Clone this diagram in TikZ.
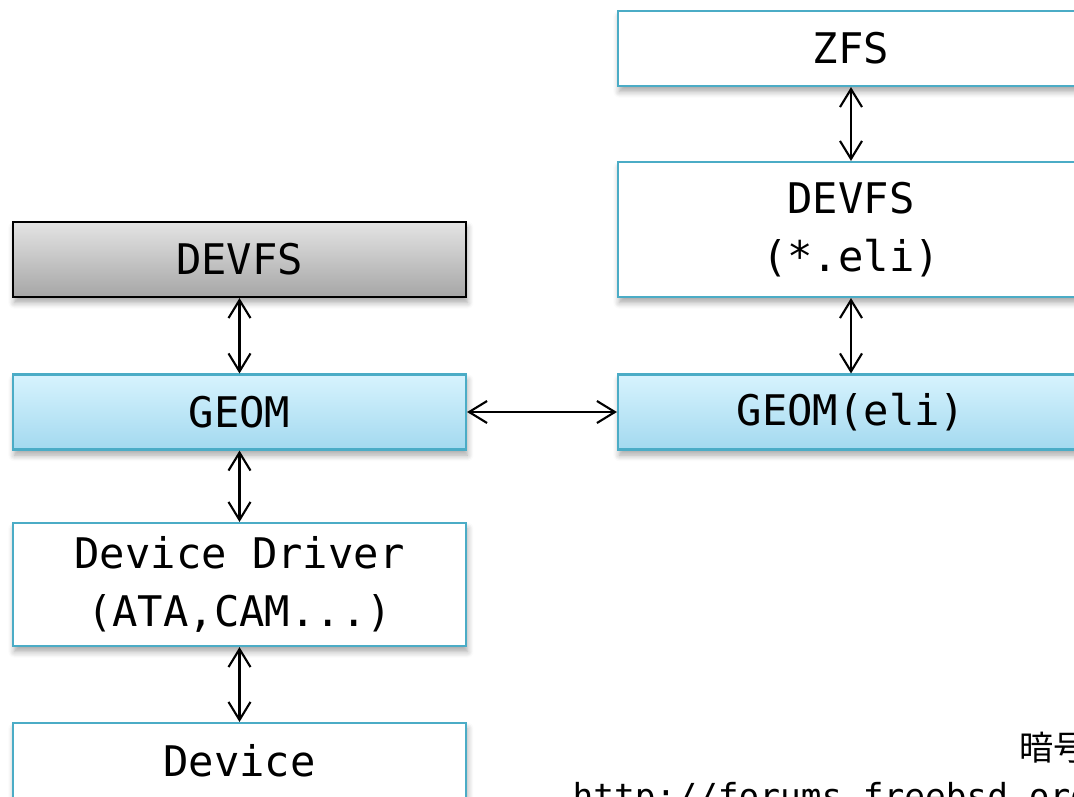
\documentclass[tikz,border=0pt]{standalone}
\usepackage{fontspec}
\setmonofont{DejaVu Sans Mono}
\newfontfamily\cjk{Noto Sans CJK JP}
\usetikzlibrary{arrows.meta,shadows.blur}
\definecolor{aqua}{HTML}{4BACC6}
\definecolor{geomtop}{HTML}{D7F3FE}
\definecolor{geombot}{HTML}{A3D9EF}
\definecolor{graytop}{HTML}{E4E4E4}
\definecolor{graybot}{HTML}{A6A6A6}

\begin{document}
\begin{tikzpicture}[main/.style = {draw=aqua, line width=0.6pt, fill=white, minimum width=4.53cm, minimum height=0.75cm, inner sep=0pt, align=center, font=\ttfamily\fontsize{12}{16.3}\selectfont, blur shadow={shadow xshift=0.4pt, shadow yshift=-1.6pt, shadow blur steps=6, shadow opacity=35}},
    wide/.style = {main, minimum width=4.66cm},
    geomfill/.style = {top color=geomtop, bottom color=geombot},
    link/.style = {{Straight Barb[length=1.8mm,width=2.2mm]}-{Straight Barb[length=1.8mm,width=2.2mm]}, line width=0.6pt}]
    \useasboundingbox (0,0) rectangle (10.74,-7.96);
    \clip (0,0) rectangle (10.74,-7.96);
    \node[main, draw=black, top color=graytop, bottom color=graybot] (devfs) at (2.395,-2.595) {DEVFS};
    \node[main, geomfill] (geom) at (2.395,-4.12) {GEOM};
    \node[main, minimum height=1.23cm] (driver) at (2.395,-5.845) {Device Driver\\(ATA,CAM...)};
    \node[main] (device) at (2.395,-7.605) {Device};
    \node[wide] (zfs) at (8.51,-0.485) {ZFS};
    \node[wide, minimum height=1.35cm] (devfseli) at (8.51,-2.295) {DEVFS\\(*.eli)};
    \node[wide, geomfill] (geomeli) at (8.51,-4.12) {GEOM(eli)};
    \draw[link] (devfs) -- (geom);
    \draw[link] (geom) -- (driver);
    \draw[link] (driver) -- (device);
    \draw[link] (zfs) -- (devfseli);
    \draw[link] (devfseli) -- (geomeli);
    \draw[link] (geom) -- (geomeli);
    \node[font=\cjk\fontsize{9.7}{12}\selectfont, anchor=base west, inner sep=0pt] (note) at (10.19,-7.60) {暗号};
    \node[font=\ttfamily\fontsize{9.8}{12}\selectfont, anchor=base west, inner sep=0pt] (url) at (5.72,-8.08) {http://forums.freebsd.org/};
\end{tikzpicture}
\end{document}
